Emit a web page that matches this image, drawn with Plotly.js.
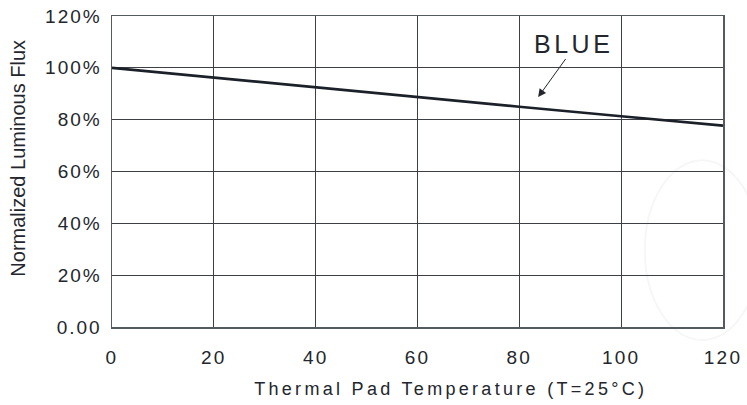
<!DOCTYPE html>
<html>
<head>
<meta charset="utf-8">
<script src="https://cdn.plot.ly/plotly-3.0.1.min.js"></script>
<style>
html,body{margin:0;padding:0;background:#fff;}
#chart{width:747px;height:405px;}
.xtick text{letter-spacing:2.2px;}
.ytick text{letter-spacing:2px;}
.annotation-text.xt{letter-spacing:3.3px;}
</style>
</head>
<body>
<div id="chart"></div>
<script>
const temperature = [0, 20, 40, 60, 80, 100, 120];
const fluxBlue = [100, 96.2, 92.5, 88.8, 85.0, 81.3, 77.7];
const xTickVals = [0, 20, 40, 60, 80, 100, 120];
const yTickVals = [0, 20, 40, 60, 80, 100, 120];
const yTickText = ['0.00', '20%', '40%', '60%', '80%', '100%', '120%'];
const seriesLabel = 'BLUE';
const xTitle = 'Thermal Pad Temperature (T=25°C)';
const yTitle = 'Normalized Luminous Flux';

const font = 'Liberation Sans, Arial, sans-serif';
const ink = '#23262c';
const grid = '#3c4046';

const data = [{
  x: temperature,
  y: fluxBlue,
  type: 'scatter',
  mode: 'lines',
  line: {color: '#1b2029', width: 2.6},
  hoverinfo: 'skip',
  showlegend: false
}];

const layout = {
  width: 747, height: 405,
  margin: {l: 112, r: 24, t: 16, b: 78},
  paper_bgcolor: '#fff', plot_bgcolor: '#fff',
  font: {family: font, color: ink},
  xaxis: {
    range: [0, 120], tickvals: xTickVals, ticktext: xTickVals.map(String),
    showgrid: true, gridcolor: grid, gridwidth: 1,
    showline: true, linecolor: '#555a60', linewidth: 1.5, mirror: true,
    zeroline: false, ticks: '', ticklen: 0, ticklabelstandoff: 13,
    tickfont: {size: 19, color: ink, family: font}
  },
  yaxis: {
    range: [0, 120], tickvals: yTickVals, ticktext: yTickText,
    showgrid: true, gridcolor: grid, gridwidth: 1,
    showline: true, linecolor: '#555a60', linewidth: 1.5, mirror: true,
    zeroline: false, ticks: '', ticklen: 0, ticklabelstandoff: 5,
    tickfont: {size: 19, color: ink, family: font}
  },
  annotations: [
    {x: 90.66, y: 109.2, xref: 'x', yref: 'y', text: seriesLabel, showarrow: false,
     font: {size: 25, color: ink, family: font}},
    {x: 83.7, y: 88.7, xref: 'x', yref: 'y', axref: 'x', ayref: 'y', ax: 89.3, ay: 104,
     text: '', showarrow: true, arrowhead: 2, arrowsize: 1.6, arrowwidth: 1, arrowcolor: ink},
    {x: 0.5544, y: -0.199, xref: 'paper', yref: 'paper', text: xTitle, showarrow: false,
     xanchor: 'center', yanchor: 'middle', font: {size: 18, color: ink, family: font}},
    {x: -0.1532, y: 0.5425, xref: 'paper', yref: 'paper', text: yTitle, showarrow: false,
     textangle: -90, xanchor: 'center', yanchor: 'middle', font: {size: 20, color: ink, family: font}}
  ],
  shapes: [
    {type: 'circle', xref: 'paper', yref: 'paper', x0: 0.872, x1: 1.06, y0: -0.042, y1: 0.536,
     line: {color: 'rgba(0,0,0,0.035)', width: 2}, layer: 'below'}
  ]
};

Plotly.newPlot('chart', data, layout, {staticPlot: true, displayModeBar: false}).then(function(gd){
  // widen spacing of the x-axis title annotation only
  const texts = gd.querySelectorAll('.annotation-text');
  texts.forEach(function(t){
    if (t.textContent === xTitle) { t.style.letterSpacing = '3.3px'; }
    if (t.textContent === seriesLabel) { t.style.letterSpacing = '3.5px'; }
  });
});
</script>
</body>
</html>
